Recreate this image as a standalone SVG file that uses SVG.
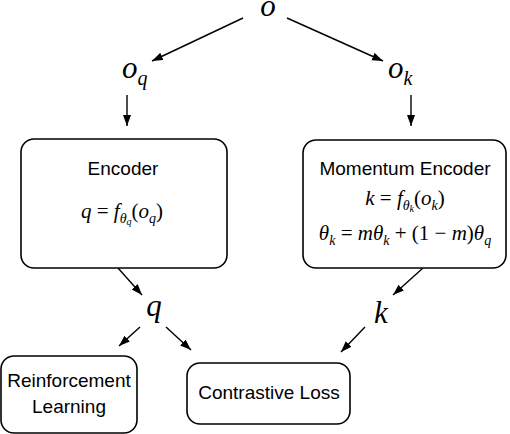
<svg xmlns="http://www.w3.org/2000/svg" width="510" height="434" viewBox="0 0 510 434">
<defs>
<marker id="ah" markerUnits="userSpaceOnUse" markerWidth="12" markerHeight="10" refX="11" refY="4" orient="auto">
<path d="M0,0 L11,4 L0,8 Z" fill="#000"/>
</marker>
<style>
.box{fill:#fff;stroke:#000;stroke-width:1.6}
.lbl{font-family:"Liberation Sans",Arial,sans-serif;font-size:19px;fill:#000;text-anchor:middle}
.m{font-family:"Liberation Serif","Times New Roman",serif;font-style:italic;fill:#000}
.up{font-style:normal}
.eq{font-size:21px;text-anchor:middle}
.big{font-size:31px}
.conn line{stroke:#000;stroke-width:1.4;marker-end:url(#ah)}
</style>
</defs>
<rect width="510" height="434" fill="#fff"/>
<g id="conn" class="conn">
<line x1="243" y1="18" x2="152" y2="61"/>
<line x1="287" y1="18" x2="383" y2="61"/>
<line x1="127" y1="95" x2="127" y2="126"/>
<line x1="411" y1="95" x2="411" y2="126"/>
<line x1="118" y1="268" x2="142" y2="295"/>
<line x1="423" y1="268" x2="393" y2="295"/>
<line x1="140" y1="327" x2="119" y2="346"/>
<line x1="166" y1="327" x2="191" y2="350"/>
<line x1="365" y1="327" x2="341" y2="352"/>
</g>
<g id="o"><text class="m big" x="268" y="16" text-anchor="middle">o</text></g>
<g id="oq"><text class="m big" x="122" y="78">o<tspan font-size="20" dy="7">q</tspan></text></g>
<g id="ok"><text class="m big" x="388" y="78">o<tspan font-size="20" dy="7">k</tspan></text></g>
<g id="encoder">
<rect class="box" x="21" y="139" width="206" height="129" rx="13"/>
<text class="lbl" x="123" y="175">Encoder</text>
<text class="m eq" x="122" y="218">q <tspan class="up">=</tspan> f<tspan font-size="14" dy="5">θ</tspan><tspan font-size="10" dy="2">q</tspan><tspan class="up" dy="-7">(</tspan>o<tspan font-size="14" dy="5">q</tspan><tspan class="up" dy="-5">)</tspan></text>
</g>
<g id="momentum">
<rect class="box" x="303" y="140" width="203" height="128" rx="13"/>
<text class="lbl" x="405" y="175">Momentum Encoder</text>
<text class="m eq" x="405" y="205">k <tspan class="up">=</tspan> f<tspan font-size="14" dy="5">θ</tspan><tspan font-size="10" dy="2">k</tspan><tspan class="up" dy="-7">(</tspan>o<tspan font-size="14" dy="5">k</tspan><tspan class="up" dy="-5">)</tspan></text>
<text class="m eq" x="405" y="240">θ<tspan font-size="14" dy="5">k</tspan><tspan class="up" dy="-5"> = </tspan>mθ<tspan font-size="14" dy="5">k</tspan><tspan class="up" dy="-5"> + (1 − </tspan>m<tspan class="up">)</tspan>θ<tspan font-size="14" dy="5">q</tspan></text>
</g>
<g id="q"><text class="m big" x="154" y="316" text-anchor="middle">q</text></g>
<g id="k"><text class="m big" x="381" y="323" text-anchor="middle">k</text></g>
<g id="rl">
<rect class="box" x="1" y="356" width="136" height="77" rx="13"/>
<text class="lbl" x="69" y="387">Reinforcement</text>
<text class="lbl" x="69" y="413">Learning</text>
</g>
<g id="cl">
<rect class="box" x="187" y="363" width="163" height="61" rx="13"/>
<text class="lbl" x="269" y="399">Contrastive Loss</text>
</g>
</svg>
